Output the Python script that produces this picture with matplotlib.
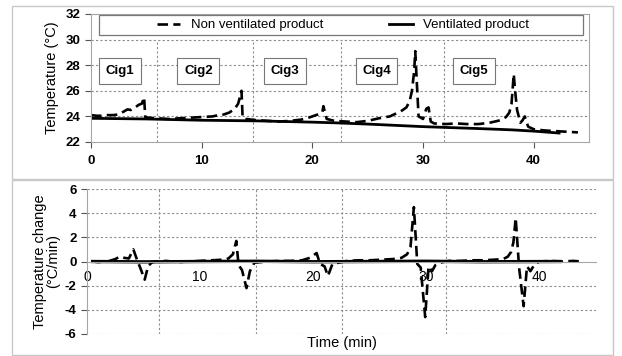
import matplotlib
matplotlib.use("Agg")
import matplotlib.pyplot as plt
from matplotlib.patches import Rectangle

plt.rcParams["axes.unicode_minus"] = False

# top panel: temperature (deg C) vs time (min)
nv_t = [0, 0.5, 1, 1.5, 2, 2.5, 3, 3.3, 3.6, 4.0, 4.3, 4.6, 4.8, 4.9, 5.2, 6, 7, 8, 9, 10,
        11, 11.5, 12, 12.5, 13, 13.3, 13.6, 13.7, 14, 15,
        16, 17, 18, 19, 19.5, 20, 20.5, 20.9, 21.0, 21.3,
        22, 23, 24, 25, 26, 27, 27.5, 28, 28.5, 28.8,
        29.0, 29.2, 29.3, 29.45, 29.6, 30.0, 30.3, 30.5, 30.7, 31,
        32, 33, 34, 35, 36, 36.5, 37, 37.5, 37.8, 38.0,
        38.2, 38.3, 38.5, 38.8, 39.0, 39.2, 39.5, 40, 41, 42,
        43, 44]
nv_temp = [24.1, 24.05, 24.05, 24.1, 24.1, 24.15, 24.4, 24.55, 24.5, 24.7, 24.9, 25.0, 25.5, 23.95, 23.9, 23.85, 23.8, 23.85, 23.9, 23.95,
           24.0, 24.1, 24.15, 24.3, 24.6, 25.0, 26.0, 23.9, 23.8, 23.7,
           23.65, 23.6, 23.65, 23.75, 23.85, 24.0, 24.15, 24.3, 24.8, 23.8,
           23.65, 23.6, 23.55, 23.65, 23.85, 24.0, 24.2, 24.4, 24.7, 25.2,
           26.0, 27.5, 29.1, 26.5, 24.0, 23.8, 24.6, 24.7, 23.6, 23.45,
           23.4, 23.45, 23.4, 23.4, 23.5, 23.6, 23.7, 23.95, 24.3, 25.0,
           27.3, 26.2, 24.5, 23.5, 23.7, 24.0, 23.2, 23.0, 22.9, 22.85,
           22.8, 22.75]
v_t = [0, 5, 10, 15, 20, 22, 25, 30, 35, 38, 40, 42.3]
v_temp = [23.85, 23.8, 23.7, 23.65, 23.55, 23.5, 23.4, 23.2, 23.05, 22.95, 22.85, 22.7]

# bottom panel: rate of temperature change (deg C/min)
nv_rt = [0.5, 1, 2, 2.5, 2.9, 3.3, 3.7, 4.1, 4.4, 4.7, 5.1, 5.4, 5.7, 6, 7, 8, 9, 10,
         11, 12, 12.5, 12.9, 13.2, 13.4, 13.7, 14.1, 14.4, 14.8,
         16, 17, 18, 19, 19.7, 20.3, 20.6, 21.0, 21.3, 21.7,
         23, 24, 25, 26, 27, 27.8, 28.3, 28.6, 28.9, 29.2,
         29.5, 29.9, 30.2, 30.5, 30.8, 31.2, 32, 33, 34, 35,
         36, 36.8, 37.2, 37.5, 37.7, 37.9, 38.2, 38.6, 38.9, 39.2,
         39.6, 40, 41, 42, 43, 43.7]
nv_rate = [0, -0.05, 0.05, 0.2, 0.4, 0.3, 0.25, 1.0, 0.2, -0.5, -1.5, -0.4, -0.1, 0, 0.05, -0.05, 0, 0.05,
           0.1, 0.15, 0.25, 0.6, 1.7, -0.3, -0.7, -2.2, -0.8, -0.1,
           0, 0.05, 0.05, 0.1, 0.3, 0.7, -0.2, -0.4, -1.2, -0.2,
           0.05, 0.1, 0.1, 0.15, 0.2, 0.3, 0.6, 1.2, 4.5, -0.2,
           -0.5, -4.6, -0.4, -0.8, -0.3, -0.1, 0.05, 0.05, 0.1, 0.1,
           0.15, 0.2, 0.4, 0.8, 1.6, 3.6, -0.5, -3.7, -0.4, -0.8,
           -0.2, 0, 0.05, 0, 0.05, 0]
v_rt = [0.5, 5, 10, 15, 20, 25, 30, 35, 41.8]
v_rate = [0, -0.03, 0, 0.02, -0.02, 0, 0.02, -0.02, 0]

# cigarette separators and labels
sep_top = [6.0, 14.65, 22.6, 31.9]
sep_bot = [6.4, 14.9, 22.5, 31.7]
cig_labels = ["Cig1", "Cig2", "Cig3", "Cig4", "Cig5"]
cig_x = [2.6, 9.7, 17.5, 25.8, 34.6]
cig_y = 27.55

GRID = "#8c8c8c"
SPINE = "#a6a6a6"
DASH = (0, (4, 2))
FONT = "Liberation Sans"
LABFONT = dict(fontsize=10.5, family=FONT)

fig = plt.figure(figsize=(6.22, 3.56), dpi=100)
W, H = 622, 356

# outer panel frames
for (x0, y0, x1, y1) in [(12, 6, 613, 179), (12, 180, 613, 355)]:
    fig.patches.append(Rectangle((x0 / W, 1 - y1 / H), (x1 - x0) / W, (y1 - y0) / H,
                                 transform=fig.transFigure, fill=False,
                                 edgecolor="#c8c8c8", lw=1))

# ---- top panel
ax1 = fig.add_axes([91 / W, 1 - 142 / H, (589 - 91) / W, (142 - 14) / H])
ax1.plot(nv_t, nv_temp, color="black", lw=1.9, ls=DASH, label="Non ventilated product")
ax1.plot(v_t, v_temp, color="black", lw=2.0, label="Ventilated product")
ax1.set_xlim(0, 45)
ax1.set_ylim(22, 32)
ax1.set_yticks([22, 24, 26, 28, 30, 32])
ax1.set_xticks([0, 10, 20, 30, 40])
for y in [24, 26, 28, 30]:
    ax1.axhline(y, color=GRID, lw=0.8, ls=(0, (2, 2)), zorder=0)
for x in sep_top:
    ax1.axvline(x, ymax=0.8, color=GRID, lw=0.8, ls=(0, (2, 2)), zorder=0)
for s in ax1.spines.values():
    s.set_color(SPINE)
ax1.tick_params(axis="both", colors="#555555", length=4, labelcolor="black")
ax1.tick_params(axis="x", length=4, pad=5)
for lab in ax1.get_xticklabels() + ax1.get_yticklabels():
    lab.set_fontsize(9.5)
    lab.set_fontweight("bold")
    lab.set_family(FONT)
ax1.set_ylabel("Temperature (\u00b0C)", labelpad=5, **LABFONT)
for lab, cx in zip(cig_labels, cig_x):
    ax1.text(cx, cig_y, lab, ha="center", va="center", fontsize=9.5, fontweight="bold",
             family=FONT,
             bbox=dict(boxstyle="square,pad=0.5", fc="white", ec="#777777", lw=0.8))
# legend box
ax1.add_patch(Rectangle((0.016, 0.836), 0.972, 0.156, transform=ax1.transAxes,
                        fc="white", ec="#777777", lw=0.9, zorder=4))
leg = ax1.legend(loc="center", bbox_to_anchor=(0.506, 0.914), ncol=2, frameon=False,
                 columnspacing=5.0, handlelength=1.8, handletextpad=0.8,
                 prop=dict(family=FONT, size=9.5))
leg.set_zorder(5)

# ---- bottom panel
ax2 = fig.add_axes([87 / W, 1 - 334 / H, (596 - 87) / W, (334 - 189) / H])
ax2.plot(nv_rt, nv_rate, color="black", lw=1.9, ls=DASH)
ax2.plot(v_rt, v_rate, color="black", lw=2.4)
ax2.set_xlim(0, 45)
ax2.set_ylim(-6, 6)
ax2.set_yticks([-6, -4, -2, 0, 2, 4, 6])
ax2.set_xticks([0, 10, 20, 30, 40])
for y in [-6, -4, -2, 2, 4, 6]:
    ax2.axhline(y, color=GRID, lw=0.8, ls=(0, (2, 2)), zorder=0)
for x in sep_bot:
    ax2.axvline(x, color=GRID, lw=0.8, ls=(0, (2, 2)), zorder=0)
ax2.spines["top"].set_visible(False)
ax2.spines["right"].set_visible(False)
ax2.spines["bottom"].set_position(("data", 0))
ax2.spines["bottom"].set_color(SPINE)
ax2.spines["left"].set_color(SPINE)
ax2.tick_params(axis="y", colors="#555555", length=4, labelcolor="black")
ax2.tick_params(axis="x", length=0, pad=6)
for lab in ax2.get_xticklabels():
    lab.set_fontsize(10)
    lab.set_family(FONT)
for lab in ax2.get_yticklabels():
    lab.set_fontsize(9.5)
    lab.set_fontweight("bold")
    lab.set_family(FONT)
ax2.set_ylabel("Temperature change\n(\u00b0C/min)", labelpad=3, linespacing=1.0, **LABFONT)
ax2.text(0.5, -0.015, "Time (min)", transform=ax2.transAxes, ha="center", va="top",
         fontsize=10.5, family=FONT)

fig.savefig("out.png", dpi=100)
